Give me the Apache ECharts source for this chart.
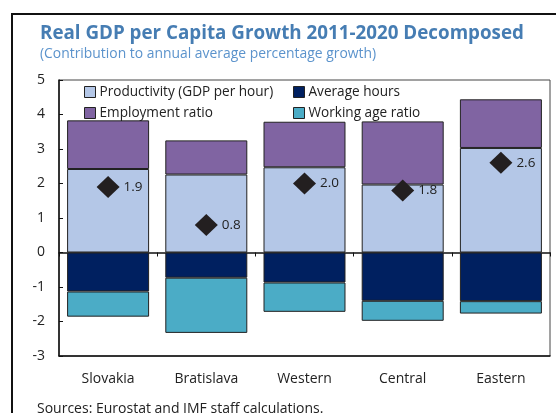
<!DOCTYPE html>
<html>
<head>
<meta charset="utf-8">
<script src="https://cdn.jsdelivr.net/npm/echarts@6/dist/echarts.min.js"></script>
<style>
html,body{margin:0;padding:0;background:#fff;}
#c{width:556px;height:413px;}
</style>
</head>
<body>
<div id="c"></div>
<script>
var categories = ['Slovakia', 'Bratislava', 'Western', 'Central', 'Eastern'];
var productivity = [2.42, 2.26, 2.47, 1.97, 3.03];
var employmentRatio = [1.41, 0.99, 1.32, 1.83, 1.41];
var averageHours = [-1.13, -0.73, -0.87, -1.40, -1.41];
var workingAgeRatio = [-0.73, -1.60, -0.85, -0.58, -0.36];
var totalGrowth = [1.9, 0.8, 2.0, 1.8, 2.6];
var yTicks = [-3, -2, -1, 0, 1, 2, 3, 4, 5];

var FONT = 'Open Sans';
var chart = echarts.init(document.getElementById('c'), null, {renderer: 'canvas'});

function barSeries(name, data, color) {
  return {
    name: name, type: 'bar', stack: 'a', data: data,
    barCategoryGap: '16.5%',
    itemStyle: {color: color, borderColor: '#222', borderWidth: 1},
    emphasis: {disabled: true}
  };
}

var option = {
  animation: false,
  textStyle: {fontFamily: FONT},
  title: {
    text: 'Real GDP per Capita Growth 2011-2020 Decomposed',
    subtext: '(Contribution to annual average percentage growth)',
    left: 35, top: 19, itemGap: 4,
    textStyle: {fontFamily: FONT, fontSize: 18.8, fontWeight: 'bold', color: '#467db3'},
    subtextStyle: {fontFamily: FONT, fontSize: 13.9, color: '#5b93cc'}
  },
  graphic: [{
    type: 'rect', shape: {x: 12, y: 14, width: 600, height: 500},
    style: {fill: 'none', stroke: '#111', lineWidth: 2}, silent: true, z: 100
  }, {
    type: 'text', left: 37, top: 402,
    style: {text: 'Sources: Eurostat and IMF staff calculations.', fontFamily: FONT, fontSize: 14, fill: '#222'}
  }],
  legend: [{
    data: ['Productivity (GDP per hour)', 'Employment ratio'],
    orient: 'vertical', left: 79, top: 80, itemGap: 7, itemWidth: 11, itemHeight: 11,
    icon: 'rect', itemStyle: {borderColor: '#222', borderWidth: 1},
    textStyle: {fontFamily: FONT, fontSize: 13.6, color: '#222', padding: [0, 0, 0, -1]}
  }, {
    data: ['Average hours', 'Working age ratio'],
    orient: 'vertical', left: 288, top: 80, itemGap: 7, itemWidth: 11, itemHeight: 11,
    icon: 'rect', itemStyle: {borderColor: '#222', borderWidth: 1},
    textStyle: {fontFamily: FONT, fontSize: 13.6, color: '#222', padding: [0, 0, 0, -1]}
  }],
  grid: {left: 59, right: 6, top: 80, bottom: 57, show: true, borderColor: '#444', borderWidth: 1},
  xAxis: [{
    type: 'category', data: categories, position: 'bottom',
    axisLine: {onZero: false, lineStyle: {color: '#111', width: 1.5}},
    axisTick: {show: false},
    axisLabel: {fontFamily: FONT, fontSize: 14, color: '#222', margin: 16}
  }, {
    type: 'category', data: categories,
    axisLine: {onZero: true, lineStyle: {color: '#111', width: 1.5}},
    axisTick: {show: true, inside: true, length: 4, lineStyle: {color: '#111'}},
    axisLabel: {show: false}
  }],
  yAxis: {
    type: 'value', min: -3, max: 5, interval: 1,
    axisLine: {show: true, lineStyle: {color: '#111', width: 1.5}},
    axisTick: {show: true, inside: true, length: 4, lineStyle: {color: '#111'}},
    splitLine: {show: false},
    axisLabel: {fontFamily: FONT, fontSize: 14, color: '#222', margin: 14,
      formatter: function (v) { return yTicks.indexOf(v) >= 0 ? String(v) : ''; }}
  },
  series: [
    barSeries('Productivity (GDP per hour)', productivity, '#b4c7e7'),
    barSeries('Employment ratio', employmentRatio, '#8064a2'),
    barSeries('Average hours', averageHours, '#002060'),
    barSeries('Working age ratio', workingAgeRatio, '#4bacc6'),
    {
      name: 'Total', type: 'scatter', data: totalGrowth, z: 10,
      symbol: 'diamond', symbolSize: [23, 22],
      itemStyle: {color: '#231f20', opacity: 1},
      label: {show: true, position: 'right', distance: 4, fontFamily: FONT, fontSize: 13.5, color: '#222',
        formatter: function (p) { return p.value.toFixed(1); }},
      emphasis: {disabled: true}
    }
  ]
};
chart.setOption(option);
</script>
</body>
</html>
